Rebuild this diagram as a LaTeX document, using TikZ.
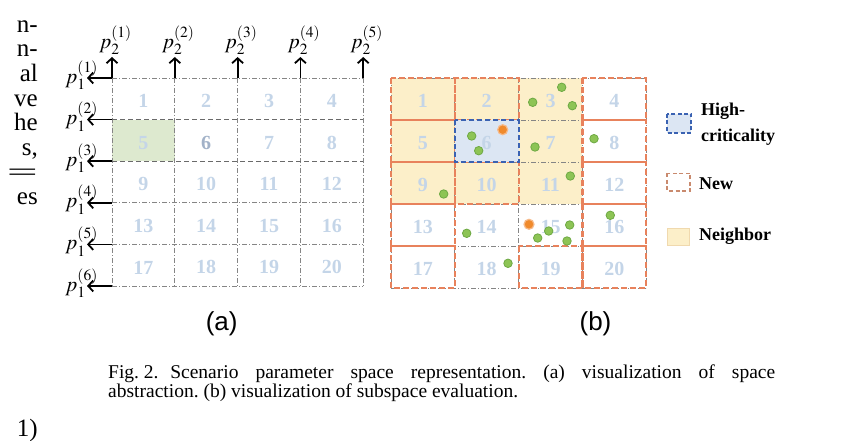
\documentclass[tikz,border=0pt]{standalone}
\usepackage{mathptmx}
\usepackage{fontspec}
\setmainfont{Liberation Serif}
\setsansfont{Liberation Sans}
\usetikzlibrary{arrows.meta}
\definecolor{numblue}{HTML}{C4D5E8}
\definecolor{numdark}{HTML}{A2B2C8}
\definecolor{gridgray}{HTML}{858585}
\definecolor{greenfill}{HTML}{DDE9CF}
\definecolor{nbfill}{HTML}{FCEFC9}
\definecolor{hifill}{HTML}{DCE6F3}
\definecolor{hiblue}{HTML}{3A62B2}
\definecolor{neworange}{HTML}{E8825C}
\definecolor{newbrown}{HTML}{C98A6E}
\definecolor{dotgreen}{HTML}{8DC455}
\definecolor{dotgreenb}{HTML}{6EA944}
\definecolor{dotorange}{HTML}{F08A2C}
\definecolor{dotorangeb}{HTML}{F6BA8A}

\begin{document}
\begin{tikzpicture}[x=1pt,y=-1pt]
  \tikzstyle{cellnum}=[font=\fontsize{20}{20}\selectfont\bfseries, inner sep=0pt]
  \tikzstyle{gridline}=[draw=gridgray, line width=0.9pt, dash pattern=on 5pt off 2pt on 1pt off 2pt]
  \tikzstyle{gridmid}=[draw=gridgray!80!black, line width=0.9pt, dash pattern=on 5pt off 3pt]
  \tikzstyle{newcell}=[draw=neworange, line width=2.2pt, dash pattern=on 6pt off 3pt]
  \tikzstyle{hicell}=[draw=hiblue, fill=hifill, line width=2.2pt, dash pattern=on 5pt off 3pt]
  \tikzstyle{axis}=[-{Straight Barb[length=5pt,width=11pt]}, line width=1.8pt]
  \tikzstyle{axlabel}=[font=\fontsize{21}{21}\selectfont, inner sep=0pt]
  \tikzstyle{gdot}=[circle, minimum size=8.5pt, inner sep=0pt, fill=dotgreen, draw=dotgreenb, line width=0.8pt]
  \tikzstyle{odot}=[circle, minimum size=10pt, inner sep=0pt, fill=dotorange, draw=dotorangeb, line width=1.2pt]
  \tikzstyle{legtext}=[font=\fontsize{18}{26}\selectfont\bfseries, anchor=west, align=left, inner sep=0pt]
  \tikzstyle{bodytext}=[font=\fontsize{25}{25}\selectfont, anchor=base east, inner sep=0pt]
  \tikzstyle{captext}=[font=\fontsize{19.5}{19.5}\selectfont\frenchspacing, anchor=base west, inner sep=0pt]

  \useasboundingbox (0,0) rectangle (860,441);

  % cut-off body text on the left
  \foreach \name/\y/\text in {f-1/32.3/n-, f-2/56.9/n-, f-3/81.5/al, f-4/106.1/ve, f-5/130.7/he, f-6/155.3/{s,}, f-7/181/{\scalebox{2.2}[1]{=}}, f-8/204.5/es, f-9/436/{1)}}
    \node[bodytext] (\name) at (38,\y) {\text};

  % (a) space abstraction
  \fill[greenfill] (112,119.6) rectangle (174.8,161.2);
  \foreach \i in {0,...,4}
    \draw[gridline] (112+\i*62.8,78) -- (112+\i*62.8,286);
  \foreach \j in {0,3,4,5}
    \draw[gridline] (112,78+\j*41.6) -- (363.2,78+\j*41.6);
  \foreach \j in {1,2}
    \draw[gridmid] (112,78+\j*41.6) -- (363.2,78+\j*41.6);

  \foreach \n in {1,...,20} {
    \pgfmathtruncatemacro{\row}{(\n-1)/4}
    \pgfmathtruncatemacro{\col}{\n-1-4*\row}
    \edef\numcol{\ifnum\n=6 numdark\else numblue\fi}
    \node[cellnum, text=\numcol] (a-\n) at (143.4+\col*62.8, 101+\row*41.6) {\n};
  }

  % axes of (a)
  \foreach \k in {1,...,5} {
    \coordinate (ta-\k) at (112+\k*62.8-62.8,78);
    \coordinate (tt-\k) at (112+\k*62.8-62.8,57);
    \node[axlabel, anchor=south] (p2-\k) at (115.5+\k*62.8-62.8,55) {$p_2^{(\k)}$};
    \draw[axis] (ta-\k) -- (tt-\k);
  }
  \foreach \k in {1,...,6} {
    \coordinate (la-\k) at (112,78+\k*41.6-41.6);
    \coordinate (lt-\k) at (87,78+\k*41.6-41.6);
    \node[axlabel, anchor=east] (p1-\k) at (98,75+\k*41.6-41.6) {$p_1^{(\k)}$};
    \draw[axis] (la-\k) -- (lt-\k);
  }

  % (b) subspace evaluation
  \foreach \n in {1,2,3,5,7,9,10,11} {
    \pgfmathtruncatemacro{\row}{(\n-1)/4}
    \pgfmathtruncatemacro{\col}{\n-1-4*\row}
    \fill[nbfill] (391+\col*63.8,78+\row*42) rectangle ++(63.8,42);
  }
  \foreach \i in {0,...,4}
    \draw[gridline] (391+\i*63.8,78) -- (391+\i*63.8,288);
  \foreach \j in {0,...,5}
    \draw[gridline] (391,78+\j*42) -- (646.2,78+\j*42);
  \foreach \n in {1,2,4,5,8,9,10,12,13,16,17,19,20} {
    \pgfmathtruncatemacro{\row}{(\n-1)/4}
    \pgfmathtruncatemacro{\col}{\n-1-4*\row}
    \draw[newcell] (391+\col*63.8,78+\row*42) rectangle ++(63.8,42);
  }
  \draw[hicell] (454.8,120) rectangle (518.6,162);

  \foreach \n in {1,...,20} {
    \pgfmathtruncatemacro{\row}{(\n-1)/4}
    \pgfmathtruncatemacro{\col}{\n-1-4*\row}
    \node[cellnum, text=numblue] (b-\n) at (422.9+\col*63.8, 101+\row*42) {\n};
  }

  \foreach \name/\x/\y in {g-1/532.7/102.3, g-2/561.7/87.3, g-3/572.3/105.7, g-4/471.7/136,
      g-5/478.7/150.7, g-6/535/147, g-7/594/138.7, g-8/570.3/176, g-9/443.7/194,
      g-10/466.7/233.3, g-11/548.7/231, g-12/537.7/238, g-13/569.7/225, g-14/567/241,
      g-15/610.3/215.3, g-16/508/263.3}
    \node[gdot] (\name) at (\x,\y) {};
  \foreach \name/\x/\y in {o-1/502.7/129.7, o-2/529/224.3}
    \node[odot] (\name) at (\x,\y) {};

  % legend
  \draw[hicell, line width=1.6pt, dash pattern=on 4pt off 2.5pt] (667,114) rectangle (691,133);
  \node[legtext] (leg-hi) at (701,123.7) {High-\\criticality};
  \draw[draw=newbrown, line width=1.6pt, dash pattern=on 4pt off 2.5pt] (667,173.5) rectangle (690,191);
  \node[legtext] (leg-new) at (699,184) {New};
  \draw[fill=nbfill, draw=nbfill!80!brown, line width=0.6pt] (667.5,228.5) rectangle (689,245);
  \node[legtext] (leg-nb) at (699,236.7) {Neighbor};

  % sub-figure labels
  \node[font=\fontsize{26}{26}\selectfont\sffamily] (lab-a) at (221.7,324) {(a)};
  \node[font=\fontsize{26}{26}\selectfont\sffamily] (lab-b) at (595.5,324) {(b)};

  % caption
  \node[captext] (cap-1) at (108,378)
    {\makebox[667pt][s]{\mbox{Fig.~2.}\hspace{0.6em}Scenario parameter space representation. (a) visualization of space}};
  \node[captext] (cap-2) at (108,397)
    {abstraction. (b) visualization of subspace evaluation.};
\end{tikzpicture}
\end{document}
